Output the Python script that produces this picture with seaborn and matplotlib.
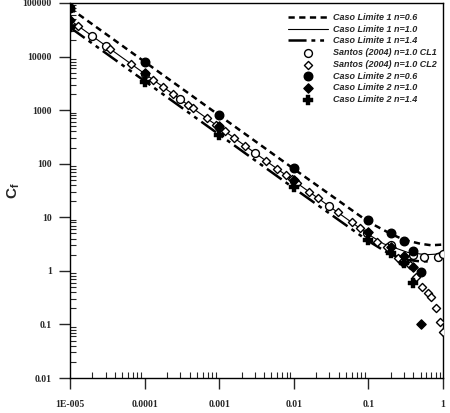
import numpy as np
import pandas as pd
import matplotlib
matplotlib.use("Agg")
import matplotlib.pyplot as plt
import seaborn as sns
from matplotlib.ticker import FixedLocator, FixedFormatter, LogLocator, NullFormatter

# ---- data ----
line_x_06 = [1e-5, 1e-4, 1e-3, 1e-2, 0.1, 0.2, 0.3, 0.5, 0.7, 1.0]
line_y_06 = [80000, 8000, 800, 80, 8.2, 4.9, 3.8, 3.2, 3.0, 3.1]

line_x_10 = [1e-5, 1e-4, 1e-3, 1e-2, 0.1, 0.16, 0.34, 0.6, 0.8, 1.0]
line_y_10 = [48000, 4800, 480, 48, 4.8, 3.2, 2.2, 2.0, 2.05, 2.3]

line_x_14 = [1e-5, 1e-4, 1e-3, 1e-2, 0.1, 0.2, 0.34, 0.5, 0.65]
line_y_14 = [35000, 3500, 350, 35, 3.6, 2.0, 1.6, 1.5, 1.5]

santos1_x = [2e-5, 3e-5, 1e-4, 3e-4, 1e-3, 3e-3, 1e-2, 3e-2, 0.095, 0.2, 0.4, 0.55, 0.85, 1.0]
santos1_y = [24000, 16000, 4800, 1600, 480, 160, 48, 16, 5.0, 3.0, 2.0, 1.8, 1.8, 2.1]

santos2_x = [1.28e-5, 3.4e-5, 6.6e-5, 1.3e-4, 1.77e-4, 2.4e-4, 3.8e-4, 4.4e-4, 6.8e-4,
             9.1e-4, 1.2e-3, 1.6e-3, 2.2e-3, 4.2e-3, 5.9e-3, 7.9e-3, 9.4e-3, 1.1e-2,
             1.6e-2, 2.1e-2, 3.9e-2, 6e-2, 7.7e-2, 0.13, 0.18, 0.25, 0.28, 0.36, 0.44,
             0.52, 0.63, 0.7, 0.81, 0.92, 1.0]
santos2_y = [37500, 14000, 7300, 3700, 2700, 2000, 1260, 1090, 700,
             530, 400, 300, 218, 114, 81, 61, 51, 44,
             30, 23, 12.3, 8.0, 6.2, 3.5, 2.8, 1.75, 1.47, 1.3, 0.77,
             0.5, 0.39, 0.32, 0.2, 0.11, 0.072]

cl2_06_x = [1e-5, 1e-4, 1e-3, 1e-2, 0.1, 0.2, 0.3, 0.4, 0.5]
cl2_06_y = [80000, 7900, 810, 82, 9.0, 5.0, 3.6, 2.3, 0.96]

cl2_10_x = [1e-5, 1e-4, 1e-3, 1e-2, 0.1, 0.2, 0.3, 0.4, 0.5]
cl2_10_y = [48000, 4900, 510, 50, 5.4, 2.8, 1.9, 1.2, 0.1]

cl2_14_x = [1e-5, 1e-4, 1e-3, 1e-2, 0.1, 0.2, 0.3, 0.4]
cl2_14_y = [35000, 3400, 345, 37, 3.8, 2.2, 1.4, 0.6]

labels = ["Caso Limite 1 n=0.6", "Caso Limite 1 n=1.0", "Caso Limite 1 n=1.4",
          "Santos (2004) n=1.0 CL1", "Santos (2004) n=1.0 CL2",
          "Caso Limite 2 n=0.6", "Caso Limite 2 n=1.0", "Caso Limite 2 n=1.4"]

x_ticks = [1e-5, 1e-4, 1e-3, 1e-2, 0.1, 1]
x_ticklabels = ["1E-005", "0.0001", "0.001", "0.01", "0.1", "1"]
y_ticks = [0.01, 0.1, 1, 10, 100, 1000, 10000, 100000]
y_ticklabels = ["0.01", "0.1", "1", "10", "100", "1000", "10000", "100000"]

# ---- plot ----
sns.set_style("ticks")
plt.rcParams["mathtext.fontset"] = "custom"
plt.rcParams["mathtext.rm"] = "Liberation Sans"
plt.rcParams["mathtext.bf"] = "Liberation Sans:bold"
plt.rcParams["lines.scale_dashes"] = False

fig = plt.figure(figsize=(4.5, 4.13), dpi=100)
ax = fig.add_axes([70 / 450, 1 - 378 / 413, 373 / 450, 375 / 413])

h = {}
sns.lineplot(x=line_x_06, y=line_y_06, ax=ax, color="black", lw=1.8,
             sort=False, estimator=None)
ax.lines[-1].set_dashes([4.5, 3.2])
h[labels[0]] = ax.lines[-1]
sns.lineplot(x=line_x_10, y=line_y_10, ax=ax, color="black", lw=0.8,
             sort=False, estimator=None)
h[labels[1]] = ax.lines[-1]
sns.lineplot(x=line_x_14, y=line_y_14, ax=ax, color="black", lw=1.8,
             sort=False, estimator=None)
ax.lines[-1].set_dashes([13, 3.5, 2.8, 3.5, 2.8, 3.5])
h[labels[2]] = ax.lines[-1]

def scat(x, y, marker, face, size, lw=1.0):
    sns.scatterplot(x=x, y=y, ax=ax, marker=marker, s=size, facecolor=face,
                    edgecolor="black", linewidth=lw, zorder=3)
    return ax.collections[-1]

h[labels[3]] = scat(santos1_x, santos1_y, "o", "white", 32)
h[labels[4]] = scat(santos2_x, santos2_y, "D", "white", 17)
h[labels[5]] = scat(cl2_06_x, cl2_06_y, "o", "black", 38)
h[labels[6]] = scat(cl2_10_x, cl2_10_y, "D", "black", 22)
sns.scatterplot(x=cl2_14_x, y=cl2_14_y, ax=ax, marker="P", s=48, color="black",
                edgecolor="black", linewidth=0.3, zorder=3)
h[labels[7]] = ax.collections[-1]

ax.set_xscale("log")
ax.set_yscale("log")
ax.set_xlim(1e-5, 1)
ax.set_ylim(0.01, 100000)

ax.xaxis.set_major_locator(FixedLocator(x_ticks))
ax.xaxis.set_major_formatter(FixedFormatter(x_ticklabels))
ax.yaxis.set_major_locator(FixedLocator(y_ticks))
ax.yaxis.set_major_formatter(FixedFormatter(y_ticklabels))
ax.xaxis.set_minor_locator(LogLocator(base=10, subs=np.arange(2, 10), numticks=20))
ax.yaxis.set_minor_locator(LogLocator(base=10, subs=np.arange(2, 10), numticks=20))
ax.xaxis.set_minor_formatter(NullFormatter())
ax.yaxis.set_minor_formatter(NullFormatter())

ax.tick_params(which="major", direction="out", length=8, width=1,
               top=False, right=False)
ax.tick_params(which="minor", direction="in", length=4, width=0.8,
               top=False, right=False)
for t in ax.get_xticklabels() + ax.get_yticklabels():
    t.set_fontfamily("Liberation Serif")
    t.set_fontweight("bold")
    t.set_fontsize(7)
ax.tick_params(axis="x", pad=8)
ax.tick_params(axis="y", pad=5)

for s in ax.spines.values():
    s.set_visible(True)
    s.set_linewidth(1.0)
    s.set_color("black")

ax.set_xlabel("")
ax.set_ylabel(r"$\mathbf{C_f}$", fontsize=11)
ax.yaxis.set_label_coords(-0.13, 0.5)

leg = ax.legend([h[l] for l in labels], labels, loc="upper right",
                bbox_to_anchor=(1.0, 0.99), frameon=False, handlelength=4.4,
                labelspacing=0.3, handletextpad=0.6, borderaxespad=0.3,
                prop=dict(family="Liberation Sans", style="italic",
                          weight="bold", size=6.5))

fig.savefig("out.png", dpi=100)
